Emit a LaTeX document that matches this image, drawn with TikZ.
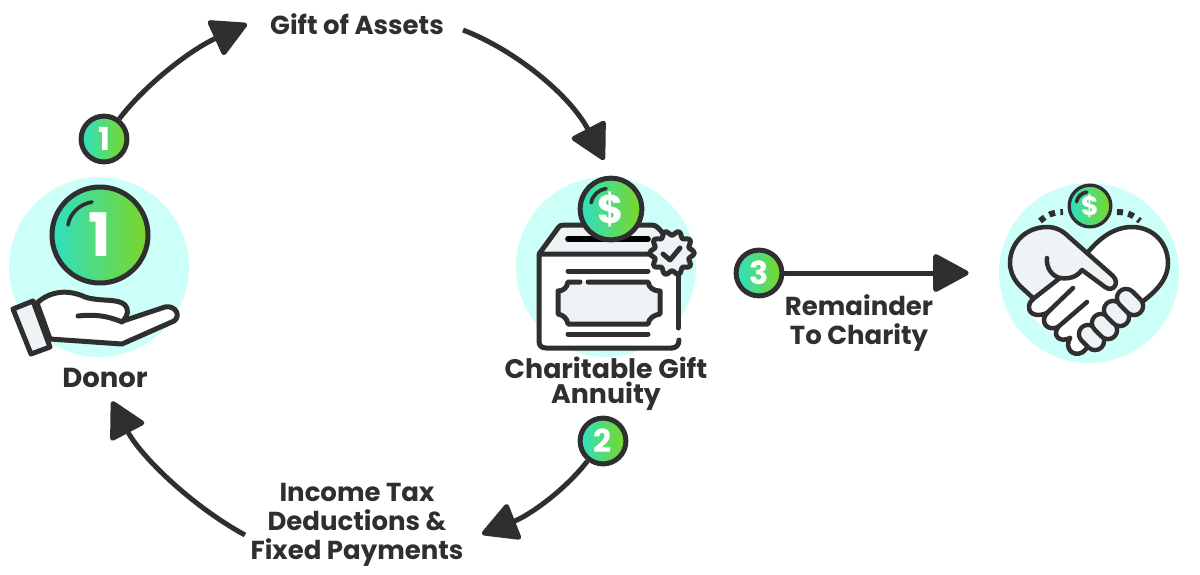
\documentclass[tikz,border=0pt]{standalone}
\usepackage{fontspec}
\setmainfont{Poppins}
\usetikzlibrary{arrows.meta,positioning}
\definecolor{ink}{HTML}{2F2F2F}
\definecolor{mint}{HTML}{CCFFF8}
\definecolor{paper}{HTML}{EEF3F6}
\definecolor{teal}{HTML}{2EE0C4}
\definecolor{lime}{HTML}{7CD626}
\tikzset{
    %Define standard arrow tip
    >={Triangle[round,length=23pt,width=24pt]},
    %Define style for discs and coins
    disc/.style={
           circle,
           inner sep=0pt,
           minimum size=108pt,
           fill=mint},
    coin/.style={
           circle,
           inner sep=0pt,
           draw=ink,
           line width=3pt,
           left color=teal,
           right color=lime,
           text=white,
           font=\bfseries},
    %Define style for labels
    caption/.style={
           align=center,
           inner sep=0pt,
           text=ink,
           font=\fontsize{15.6}{17.4}\selectfont\bfseries},
    % Define arrow style
    flow/.style={
           ->,
           draw=ink,
           line width=3pt},
    % Define icon styles
    icon/.style={
           draw=ink,
           line width=3pt,
           line join=round,
           line cap=round},
    thin icon/.style={
           icon,
           line width=2.7pt},
    knuckle/.style={
           line cap=round,
           draw=ink,
           line width=13.6pt,
           postaction={draw=paper,line width=8.2pt}},
    glint/.style={
           draw=ink,
           line width=2.2pt,
           line cap=round}
}
\newcommand{\coinglint}[2]{\draw[glint,shift={(#1)},scale=#2] (-32,-10) .. controls (-30,-22) and (-20,-31) .. (-8,-33);}
\begin{document}
\begin{tikzpicture}[x=0.6pt,y=-0.6pt]
\useasboundingbox (0,0) rectangle (1200,574);
 %discs
\node[disc](donordisc) at (99,267){};
\node[disc](boxdisc) at (606,267){};
\node[disc](handsdisc) at (1089,273){};

 %hand
\draw[icon,fill=white] (37,303) .. controls (50,291) and (68,289) .. (85,297) .. controls (100,302) and (118,298) .. (125,305) .. controls (129,309) and (128,316) .. (123,321) -- (165,307) .. controls (176,305) and (181,316) .. (174,321) -- (122,344) -- (50,339) -- cycle;
\draw[icon] (78,316) .. controls (95,314) and (108,316) .. (122,322);
\draw[icon,fill=paper] (13,309) -- (33,301) -- (50,347) -- (31,354) -- cycle;

 %box
\fill[white] (539,254) rectangle (678,348);
\draw[icon] (672,348) -- (546,348) .. controls (541,348) and (539,345) .. (539,341) -- (539,255);
\draw[icon] (678,273) -- (678,328);
\draw[icon,fill=paper] (539,254) -- (558,228) .. controls (560,225) and (562,225) .. (565,225) -- (652,225) .. controls (656,225) and (660,229) .. (664,235) -- (664,254) -- cycle;
\draw[icon] (679,340) .. controls (679,345) and (676,348) .. (672,348);
\draw[icon,line width=3.4pt,draw=black] (568,239) -- (648,239);
\draw[icon] (568,271) -- (648,271);
\draw[icon] (568,334) -- (648,334);
\fill[paper] (568,282) .. controls (567,288) and (563,291) .. (558,291) -- (558,314) .. controls (563,315) and (567,318) .. (568,324) -- (648,324) .. controls (649,318) and (654,315) .. (660,314) -- (660,291) .. controls (654,291) and (649,288) .. (648,282) -- cycle;
\draw[icon] (588,282) -- (648,282) .. controls (649,288) and (654,291) .. (660,291) -- (660,314) .. controls (654,315) and (649,318) .. (648,324) -- (568,324) .. controls (567,318) and (563,315) .. (558,314) -- (558,291) .. controls (563,291) and (567,288) .. (568,282) -- (580,282);
\draw[icon,fill=paper] plot[domain=0:356,samples=90,smooth cycle] ({672+(20+2.2*cos(10*\x))*cos(\x)},{253+(20+2.2*cos(10*\x))*sin(\x)});
\draw[icon] (663,254) -- (670,260) -- (680,248);

 %handshake
\fill[white] (1088,252) .. controls (1100,238) and (1114,227) .. (1132,227) .. controls (1153,227) and (1168,243) .. (1168,263) .. controls (1168,280) and (1155,292) .. (1142,302) -- (1100,340) -- (1060,280) -- cycle;
\draw[thin icon] (1088,252) .. controls (1100,238) and (1114,227) .. (1132,227) .. controls (1153,227) and (1168,243) .. (1168,263) .. controls (1168,280) and (1155,292) .. (1142,302);
\fill[white] (1060,279) -- (1033,299) -- (1024,310) -- (1047,330) -- (1070,345) -- (1083,355) -- (1115,330) -- (1105,290) -- (1082,270) -- cycle;
\draw[thin icon] (1033,299) .. controls (1024,307) and (1030,320) .. (1047,313);
\draw[thin icon] (1047,313) .. controls (1039,322) and (1048,332) .. (1058,327);
\draw[thin icon] (1058,327) .. controls (1052,336) and (1060,343) .. (1070,338);
\draw[thin icon,fill=white] (1070,338) .. controls (1064,348) and (1073,358) .. (1083,352) -- (1090,345);
\fill[paper] (1033,298) -- (1020,286) .. controls (1013,279) and (1010,270) .. (1010,263) .. controls (1010,243) and (1026,227) .. (1047,227) .. controls (1055,227) and (1062,230) .. (1069,237) -- (1113,276) .. controls (1120,283) and (1113,293) .. (1105,287) -- (1082,270) .. controls (1076,278) and (1068,279) .. (1060,278) -- cycle;
\draw[thin icon] (1033,298) -- (1020,286) .. controls (1013,279) and (1010,270) .. (1010,263) .. controls (1010,243) and (1026,227) .. (1047,227) .. controls (1055,227) and (1062,230) .. (1069,237) -- (1113,276) .. controls (1120,283) and (1113,293) .. (1105,287) -- (1082,270) .. controls (1076,278) and (1068,279) .. (1060,278) .. controls (1052,276) and (1046,268) .. (1047,258);
\draw[thin icon] (1060,278) -- (1033,299);
\draw[thin icon] (1073,288) -- (1047,313);
\draw[thin icon] (1087,302) -- (1058,327);
\draw[knuckle] (1088,334) -- (1095,341);
\draw[knuckle] (1101,323) -- (1108,330);
\draw[knuckle] (1113,310) -- (1120,317);
\draw[knuckle] (1126,298) -- (1134,306);
\draw[draw=ink,line width=3.6pt,dash pattern=on 3.6pt off 3.2pt] (1040,221) .. controls (1047,215) and (1053,212) .. (1063,212);
\draw[draw=ink,line width=3.6pt,dash pattern=on 3.6pt off 3.2pt] (1117,212) .. controls (1127,212) and (1133,215) .. (1140,221);

 %coins
\node[coin,minimum size=57.6pt,font=\fontsize{36}{36}\selectfont\bfseries](donorcoin) at (100,235){1};
\coinglint{donorcoin}{1}
\node[coin,minimum size=37pt,font=\fontsize{24}{24}\selectfont\bfseries](boxcoin) at (611,209){\$};
\coinglint{boxcoin}{.62}
\node[coin,minimum size=25pt,line width=2pt,font=\fontsize{16}{16}\selectfont\bfseries](handscoin) at (1090,206){\$};
\coinglint{handscoin}{.42}

 %badges
\node[coin,minimum size=27.5pt,font=\fontsize{19}{19}\selectfont\bfseries](badgeone) at (104,139){1};
\node[coin,minimum size=27.5pt,font=\fontsize{19}{19}\selectfont\bfseries](badgetwo) at (603,441){2};
\node[coin,minimum size=27.5pt,font=\fontsize{19}{19}\selectfont\bfseries](badgethree) at (759,273){3};

 %labels
\node[caption](assets) at (357,24){Gift of Assets};
\node[caption,font=\fontsize{16.5}{17.4}\selectfont\bfseries](donor) at (105,378){Donor};
\node[caption,font=\fontsize{16.1}{15}\selectfont\bfseries](annuity) at (606,384){Charitable Gift\\Annuity};
\node[caption](remainder) at (859,323){Remainder\\To Charity};
\node[caption](deductions) at (357,525){Income Tax\\Deductions \&\\Fixed Payments};
\coordinate (tipdeductions) at (482,534);
\coordinate (taildeductions) at (245,535);

 %arrows
\draw[flow] (badgeone) .. controls (145,85) and (190,50) .. (247,24);
\draw[flow] (463,30) .. controls (515,50) and (570,95) .. (604,160);
\draw[flow] (badgetwo) .. controls (565,490) and (530,515) .. (tipdeductions);
\draw[flow,shorten >=9pt] (taildeductions) .. controls (190,505) and (140,455) .. (donor.south);
\draw[flow,shorten >=18pt] (badgethree) -- (handsdisc);
\end{tikzpicture}
\end{document}
